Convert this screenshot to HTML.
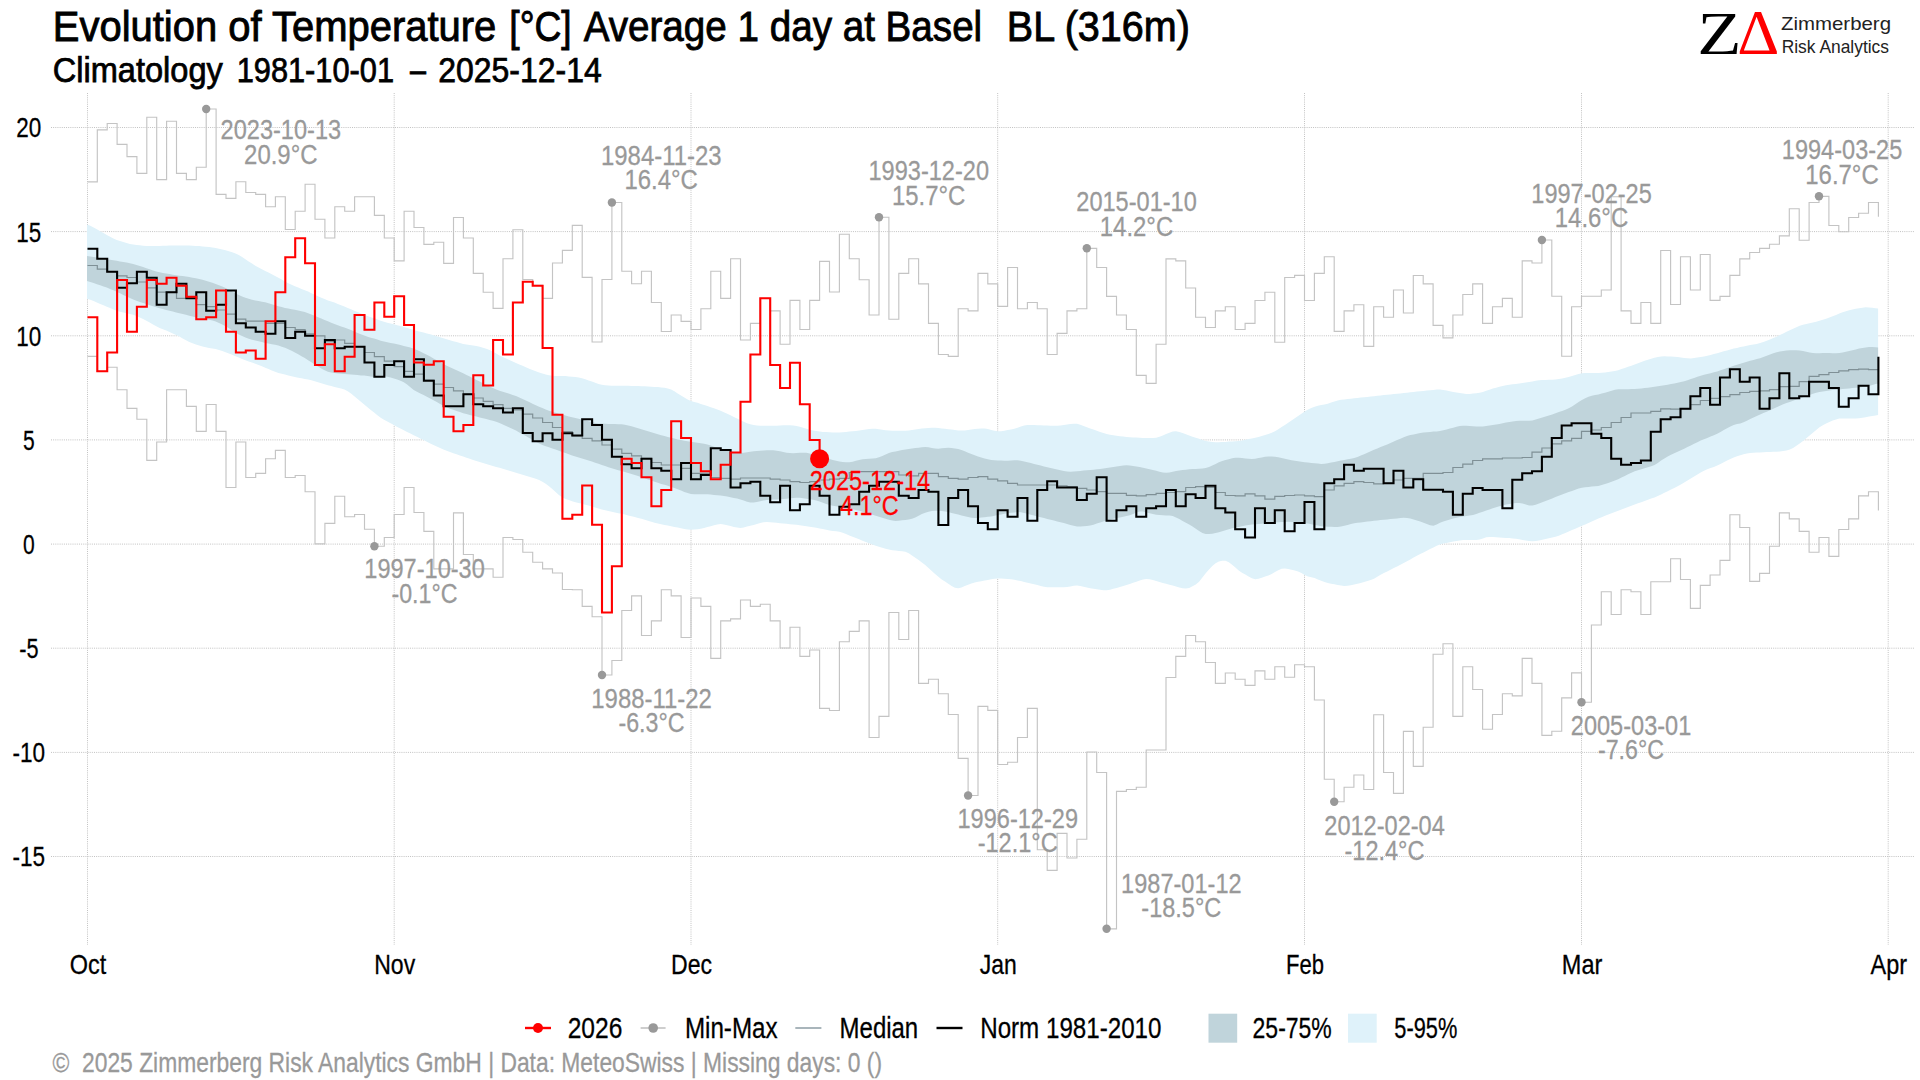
<!DOCTYPE html>
<html lang="en"><head><meta charset="utf-8"><title>Evolution of Temperature – Basel BL</title>
<style>html,body{margin:0;padding:0;background:#fff}body{width:1920px;height:1080px;overflow:hidden}svg{display:block}text{font-family:"Liberation Sans",sans-serif;white-space:pre}</style></head><body>
<svg width="1920" height="1080" viewBox="0 0 1920 1080">
<rect width="1920" height="1080" fill="#fff"/>
<path d="M51,127.5H1914M51,231.6H1914M51,335.8H1914M51,439.9H1914M51,544.1H1914M51,648.2H1914M51,752.4H1914M51,856.5H1914M87.5,93V945M394.2,93V945M691,93V945M997.7,93V945M1304.5,93V945M1581.5,93V945M1888.2,93V945" stroke="#c2c2c2" stroke-width="1" stroke-dasharray="1,1.15" fill="none"/>
<path d="M87,224.5 L90.3,225.8 L93.6,227.5 L96.9,229.3 L100.2,231.2 L103.5,233.1 L106.8,235 L110.1,236.7 L113.4,238.4 L116.7,239.9 L120,241 L123.3,242.1 L126.6,243.1 L129.9,244 L133.2,244.5 L136.5,244.9 L139.8,245.3 L143.1,245.7 L146.4,246 L149.7,246.1 L153,246 L156.3,246 L159.6,245.9 L162.9,245.8 L166.2,245.7 L169.5,245.6 L172.8,245.5 L176.1,245.5 L179.4,245.4 L182.7,245.4 L186,245.5 L189.3,245.6 L192.6,245.7 L195.9,245.9 L199.2,246.1 L202.5,246.4 L205.8,246.7 L209.1,247.1 L212.4,247.5 L215.7,248 L219,248.7 L222.3,249.4 L225.6,250.3 L228.9,251.2 L232.2,252.3 L235.5,253.5 L238.8,255.1 L242.1,257.1 L245.4,259.2 L248.7,261.4 L252,263.6 L255.3,265.7 L258.6,267.6 L261.9,269.3 L265.2,270.9 L268.5,272.6 L271.8,274.2 L275.1,275.9 L278.4,277.7 L281.7,279.6 L285,281.5 L288.3,283.2 L291.6,284.7 L294.9,286.2 L298.2,287.6 L301.5,288.9 L304.8,290.2 L308.1,291.6 L311.4,293.2 L314.7,294.8 L318,296.3 L321.3,297.8 L324.6,299.1 L327.9,300.4 L331.2,301.5 L334.5,302.6 L337.8,303.9 L341.1,305.2 L344.4,306.6 L347.7,307.9 L351,309.3 L354.3,310.7 L357.6,312.1 L360.9,313.4 L364.2,314.8 L367.5,316.1 L370.8,317.2 L374.1,318.3 L377.4,319.6 L380.7,320.8 L384,321.8 L387.3,322.7 L390.6,323.5 L393.9,324.3 L397.2,325.2 L400.5,326.1 L403.8,327.1 L407.1,328.1 L410.4,329.1 L413.7,330.1 L417,330.9 L420.3,331.7 L423.6,332.6 L426.9,333.4 L430.2,334.3 L433.5,335.2 L436.8,336.2 L440.1,337.2 L443.4,338.2 L446.7,339.2 L450,340.2 L453.3,341.2 L456.6,342.1 L459.9,343.1 L463.2,344 L466.5,344.6 L469.8,345.1 L473.1,345.6 L476.4,346.1 L479.7,346.8 L483,347.7 L486.3,348.8 L489.6,350 L492.9,351.7 L496.2,353.6 L499.5,355.4 L502.8,357 L506.1,358.5 L509.4,359.9 L512.7,361.4 L516,362.9 L519.3,364.4 L522.6,365.8 L525.9,367.3 L529.2,368.7 L532.5,370 L535.8,371.2 L539.1,372.4 L542.4,373.5 L545.7,374.5 L549,375.3 L552.3,375.8 L555.6,376.1 L558.9,376.1 L562.2,376 L565.5,376.1 L568.8,376.4 L572.1,376.7 L575.4,377 L578.7,377.5 L582,378.2 L585.3,379.3 L588.6,380.4 L591.9,381.5 L595.2,382.7 L598.5,383.9 L601.8,384.8 L605.1,385.2 L608.4,385.5 L611.7,385.7 L615,385.8 L618.3,385.8 L621.6,385.8 L624.9,385.8 L628.2,385.8 L631.5,385.9 L634.8,386 L638.1,386.1 L641.4,386.2 L644.7,386.3 L648,386.4 L651.3,386.7 L654.6,386.9 L657.9,387.1 L661.2,387.4 L664.5,387.8 L667.8,388.4 L671.1,389.4 L674.4,391.2 L677.7,393.4 L681,395.5 L684.3,397.5 L687.6,399.4 L690.9,400.9 L694.2,401.9 L697.5,402.8 L700.8,403.9 L704.1,405 L707.4,406.1 L710.7,407.2 L714,408.3 L717.3,409.5 L720.6,410.8 L723.9,412.2 L727.2,413.7 L730.5,415.2 L733.8,416.9 L737.1,418.5 L740.4,420.2 L743.7,421.8 L747,423.2 L750.3,424.2 L753.6,425.1 L756.9,425.6 L760.2,425.8 L763.5,425.8 L766.8,425.8 L770.1,425.8 L773.4,425.8 L776.7,425.7 L780,425.5 L783.3,425.3 L786.6,425.2 L789.9,425.2 L793.2,425.5 L796.5,426.1 L799.8,426.8 L803.1,427.7 L806.4,428.8 L809.7,429.8 L813,430.4 L816.3,430.9 L819.6,431.4 L822.9,431.9 L826.2,432.1 L829.5,432.2 L832.8,432.4 L836.1,432.5 L839.4,432.5 L842.7,432.3 L846,432 L849.3,431.6 L852.6,431.3 L855.9,430.9 L859.2,430.4 L862.5,430 L865.8,429.5 L869.1,429 L872.4,428.7 L875.7,428.8 L879,429.2 L882.3,429.7 L885.6,430.2 L888.9,430.6 L892.2,430.8 L895.5,430.8 L898.8,430.8 L902.1,430.8 L905.4,430.8 L908.7,430.5 L912,430 L915.3,429.5 L918.6,429 L921.9,428.6 L925.2,428.2 L928.5,427.9 L931.8,427.7 L935.1,427.8 L938.4,428.1 L941.7,428.4 L945,428.8 L948.3,429.2 L951.6,429.6 L954.9,430 L958.2,430.4 L961.5,430.6 L964.8,430.4 L968.1,429.9 L971.4,429.5 L974.7,429.1 L978,428.8 L981.3,428.6 L984.6,428.6 L987.9,429.1 L991.2,429.9 L994.5,430.7 L997.8,431.2 L1001.1,431.2 L1004.4,430.7 L1007.7,430.1 L1011,429.5 L1014.3,428.7 L1017.6,427.7 L1020.9,426.6 L1024.2,425.6 L1027.5,424.9 L1030.8,424.9 L1034.1,425 L1037.4,425.2 L1040.7,425.3 L1044,425.5 L1047.3,425.6 L1050.6,425.7 L1053.9,425.7 L1057.2,425.7 L1060.5,425.4 L1063.8,424.9 L1067.1,424.5 L1070.4,424.1 L1073.7,423.7 L1077,423.8 L1080.3,424.7 L1083.6,425.9 L1086.9,427.2 L1090.2,428.4 L1093.5,429.6 L1096.8,430.7 L1100.1,431.9 L1103.4,433 L1106.7,434 L1110,434.7 L1113.3,435.2 L1116.6,435.7 L1119.9,436.2 L1123.2,436.6 L1126.5,436.9 L1129.8,437.2 L1133.1,437.4 L1136.4,437.6 L1139.7,437.8 L1143,437.9 L1146.3,437.9 L1149.6,438 L1152.9,438 L1156.2,437.7 L1159.5,436.8 L1162.8,435.4 L1166.1,434.1 L1169.4,432.7 L1172.7,431.5 L1176,431.2 L1179.3,431.9 L1182.6,433.1 L1185.9,434.3 L1189.2,435.5 L1192.5,436.7 L1195.8,437.7 L1199.1,438.8 L1202.4,439.9 L1205.7,440.9 L1209,441.6 L1212.3,442 L1215.6,442.3 L1218.9,442.3 L1222.2,442.1 L1225.5,441.9 L1228.8,441.6 L1232.1,441.4 L1235.4,441.2 L1238.7,440.9 L1242,440.4 L1245.3,439.8 L1248.6,439.1 L1251.9,438.5 L1255.2,437.7 L1258.5,436.9 L1261.8,436 L1265.1,435 L1268.4,434 L1271.7,432.8 L1275,431.3 L1278.3,429.3 L1281.6,427.1 L1284.9,425 L1288.2,422.8 L1291.5,420.6 L1294.8,418.3 L1298.1,416 L1301.4,413.7 L1304.7,411.5 L1308,409.6 L1311.3,408.1 L1314.6,406.8 L1317.9,405.8 L1321.2,405.1 L1324.5,404.5 L1327.8,403.7 L1331.1,402.6 L1334.4,401.4 L1337.7,400.4 L1341,399.8 L1344.3,399.4 L1347.6,399 L1350.9,398.7 L1354.2,398.3 L1357.5,398 L1360.8,397.6 L1364.1,397.3 L1367.4,396.9 L1370.7,396.6 L1374,396.2 L1377.3,395.8 L1380.6,395.5 L1383.9,395.1 L1387.2,394.8 L1390.5,394.4 L1393.8,394.1 L1397.1,393.7 L1400.4,393.4 L1403.7,393 L1407,392.7 L1410.3,392.3 L1413.6,392 L1416.9,391.6 L1420.2,391.3 L1423.5,390.9 L1426.8,390.6 L1430.1,390.2 L1433.4,389.9 L1436.7,389.5 L1440,389.4 L1443.3,389.9 L1446.6,390.6 L1449.9,391.3 L1453.2,391.9 L1456.5,392.5 L1459.8,393.1 L1463.1,393.6 L1466.4,393.9 L1469.7,393.9 L1473,393.6 L1476.3,393.3 L1479.6,392.8 L1482.9,392 L1486.2,390.8 L1489.5,389.7 L1492.8,388.6 L1496.1,387.7 L1499.4,386.8 L1502.7,386 L1506,385.3 L1509.3,384.7 L1512.6,384.3 L1515.9,383.9 L1519.2,383.5 L1522.5,383.1 L1525.8,382.5 L1529.1,382 L1532.4,381.4 L1535.7,380.8 L1539,380.3 L1542.3,380 L1545.6,379.9 L1548.9,379.8 L1552.2,379.8 L1555.5,379.6 L1558.8,379.1 L1562.1,378.4 L1565.4,377.7 L1568.7,376.9 L1572,376 L1575.3,375 L1578.6,374 L1581.9,373.3 L1585.2,373 L1588.5,373.1 L1591.8,373.1 L1595.1,373.1 L1598.4,373.1 L1601.7,372.8 L1605,372.4 L1608.3,371.9 L1611.6,371.5 L1614.9,371 L1618.2,370.2 L1621.5,369.1 L1624.8,368 L1628.1,366.8 L1631.4,365.7 L1634.7,364.5 L1638,363.3 L1641.3,362 L1644.6,360.8 L1647.9,359.7 L1651.2,358.7 L1654.5,357.7 L1657.8,356.9 L1661.1,356.4 L1664.4,356.3 L1667.7,356.4 L1671,356.5 L1674.3,356.7 L1677.6,357 L1680.9,357.5 L1684.2,357.9 L1687.5,358.3 L1690.8,358.4 L1694.1,358.1 L1697.4,357.6 L1700.7,357 L1704,356.4 L1707.3,355.7 L1710.6,354.9 L1713.9,354 L1717.2,353.2 L1720.5,352.3 L1723.8,351.3 L1727.1,350.4 L1730.4,349.5 L1733.7,348.6 L1737,347.9 L1740.3,347.1 L1743.6,346.4 L1746.9,345.7 L1750.2,345 L1753.5,344.4 L1756.8,343.9 L1760.1,343.1 L1763.4,342 L1766.7,340.7 L1770,339.4 L1773.3,338.1 L1776.6,336.7 L1779.9,335.1 L1783.2,333.4 L1786.5,331.8 L1789.8,330.2 L1793.1,328.7 L1796.4,327.2 L1799.7,325.8 L1803,324.8 L1806.3,324.1 L1809.6,323.3 L1812.9,322.5 L1816.2,321.7 L1819.5,320.8 L1822.8,319.8 L1826.1,318.7 L1829.4,317.6 L1832.7,316.3 L1836,314.9 L1839.3,313.5 L1842.6,312.3 L1845.9,311.3 L1849.2,310.3 L1852.5,309.5 L1855.8,308.8 L1859.1,308.2 L1862.4,307.7 L1865.7,307.3 L1869,307.4 L1872.3,307.8 L1875.6,308.3 L1878.1,308.6 L1878.1,415.1 L1875.6,415.4 L1872.3,416 L1869,416.6 L1865.7,417.2 L1862.4,417.8 L1859.1,418.3 L1855.8,418.5 L1852.5,418.6 L1849.2,418.6 L1845.9,418.5 L1842.6,418.5 L1839.3,418.6 L1836,419.4 L1832.7,420.6 L1829.4,422 L1826.1,423.6 L1822.8,425.3 L1819.5,427.3 L1816.2,429.9 L1812.9,432.8 L1809.6,435.6 L1806.3,438.3 L1803,440.9 L1799.7,443.4 L1796.4,445.7 L1793.1,447.9 L1789.8,449.6 L1786.5,450.6 L1783.2,451.1 L1779.9,451.6 L1776.6,451.8 L1773.3,451.8 L1770,451.9 L1766.7,452 L1763.4,452.2 L1760.1,452.4 L1756.8,452.6 L1753.5,452.8 L1750.2,453.1 L1746.9,453.6 L1743.6,454.3 L1740.3,455.2 L1737,456.3 L1733.7,457.5 L1730.4,459 L1727.1,460.6 L1723.8,462.3 L1720.5,463.9 L1717.2,465.5 L1713.9,466.9 L1710.6,468.1 L1707.3,469.3 L1704,470.7 L1700.7,472.5 L1697.4,474.4 L1694.1,476.4 L1690.8,478.4 L1687.5,480.4 L1684.2,482.5 L1680.9,484.4 L1677.6,486.2 L1674.3,487.9 L1671,489.5 L1667.7,491.2 L1664.4,492.8 L1661.1,494.5 L1657.8,496 L1654.5,497.4 L1651.2,498.6 L1647.9,499.8 L1644.6,501 L1641.3,502.2 L1638,503.3 L1634.7,504.5 L1631.4,505.7 L1628.1,507 L1624.8,508.2 L1621.5,509.4 L1618.2,510.7 L1614.9,511.9 L1611.6,513.2 L1608.3,514.4 L1605,515.8 L1601.7,517.2 L1598.4,518.6 L1595.1,520.1 L1591.8,521.5 L1588.5,522.9 L1585.2,524.4 L1581.9,525.8 L1578.6,527.3 L1575.3,528.7 L1572,530.1 L1568.7,531.5 L1565.4,532.9 L1562.1,534.3 L1558.8,535.7 L1555.5,536.8 L1552.2,537.6 L1548.9,538.3 L1545.6,539 L1542.3,539.7 L1539,540.5 L1535.7,541.1 L1532.4,541.3 L1529.1,541 L1525.8,540.4 L1522.5,539.9 L1519.2,539.3 L1515.9,538.8 L1512.6,538.4 L1509.3,538.1 L1506,537.9 L1502.7,537.7 L1499.4,537.5 L1496.1,537.3 L1492.8,537 L1489.5,536.9 L1486.2,537.3 L1482.9,538.5 L1479.6,539.6 L1476.3,540 L1473,540 L1469.7,540 L1466.4,540 L1463.1,540.1 L1459.8,540.4 L1456.5,541 L1453.2,541.6 L1449.9,542.3 L1446.6,542.9 L1443.3,543.5 L1440,544.4 L1436.7,545.8 L1433.4,547.5 L1430.1,549.1 L1426.8,550.8 L1423.5,552.4 L1420.2,554.1 L1416.9,555.8 L1413.6,557.6 L1410.3,559.4 L1407,561.2 L1403.7,562.9 L1400.4,564.7 L1397.1,566.4 L1393.8,568.1 L1390.5,569.8 L1387.2,571.4 L1383.9,573.1 L1380.6,574.8 L1377.3,576.8 L1374,578.7 L1370.7,580.1 L1367.4,581.1 L1364.1,582.1 L1360.8,583 L1357.5,583.8 L1354.2,584.5 L1350.9,585.2 L1347.6,585.7 L1344.3,585.9 L1341,585.6 L1337.7,584.9 L1334.4,584.3 L1331.1,583.7 L1327.8,583 L1324.5,582.1 L1321.2,580.8 L1317.9,579.4 L1314.6,578.1 L1311.3,577.2 L1308,576.5 L1304.7,575 L1301.4,573 L1298.1,571.4 L1294.8,570.5 L1291.5,569.8 L1288.2,569.1 L1284.9,568.5 L1281.6,568.8 L1278.3,570.2 L1275,572.1 L1271.7,573.9 L1268.4,575.4 L1265.1,576.6 L1261.8,577.7 L1258.5,578.8 L1255.2,579.2 L1251.9,578.2 L1248.6,576.4 L1245.3,574.6 L1242,572.7 L1238.7,570.4 L1235.4,567.6 L1232.1,564.8 L1228.8,562.2 L1225.5,560.7 L1222.2,560.7 L1218.9,561.5 L1215.6,563.2 L1212.3,566 L1209,569.4 L1205.7,573.3 L1202.4,577.6 L1199.1,581.7 L1195.8,584.5 L1192.5,586.3 L1189.2,587.9 L1185.9,588.6 L1182.6,588.2 L1179.3,587.4 L1176,586.5 L1172.7,585.6 L1169.4,584.7 L1166.1,583.8 L1162.8,582.9 L1159.5,582 L1156.2,581 L1152.9,580.1 L1149.6,579.2 L1146.3,578.9 L1143,579.5 L1139.7,580.6 L1136.4,581.7 L1133.1,582.8 L1129.8,583.9 L1126.5,585 L1123.2,586 L1119.9,587 L1116.6,587.9 L1113.3,588.8 L1110,589.7 L1106.7,590.3 L1103.4,590.2 L1100.1,589.7 L1096.8,589.3 L1093.5,588.8 L1090.2,588.3 L1086.9,587.6 L1083.6,586.7 L1080.3,585.9 L1077,585.4 L1073.7,585.7 L1070.4,586.5 L1067.1,587.1 L1063.8,587.3 L1060.5,587.3 L1057.2,587.3 L1053.9,587.3 L1050.6,587.3 L1047.3,587.2 L1044,586.7 L1040.7,585.9 L1037.4,585.1 L1034.1,584.3 L1030.8,583.5 L1027.5,582.7 L1024.2,581.9 L1020.9,581.1 L1017.6,580.4 L1014.3,579.7 L1011,579.2 L1007.7,579 L1004.4,578.8 L1001.1,578.6 L997.8,578.5 L994.5,578.8 L991.2,579.3 L987.9,580 L984.6,580.6 L981.3,581.2 L978,581.8 L974.7,582.5 L971.4,583.5 L968.1,584.8 L964.8,586.1 L961.5,587.4 L958.2,588.3 L954.9,587.8 L951.6,586 L948.3,583.8 L945,581.6 L941.7,579.4 L938.4,576.8 L935.1,573.9 L931.8,571 L928.5,568 L925.2,565.1 L921.9,562.4 L918.6,560 L915.3,557.7 L912,555.4 L908.7,553.3 L905.4,551.8 L902.1,551.2 L898.8,550.9 L895.5,550.5 L892.2,550.2 L888.9,549.6 L885.6,548.7 L882.3,547.7 L879,546.7 L875.7,545.7 L872.4,544.6 L869.1,543.3 L865.8,542 L862.5,540.7 L859.2,539.3 L855.9,538 L852.6,536.7 L849.3,535.4 L846,534.1 L842.7,532.8 L839.4,531.8 L836.1,531.3 L832.8,530.9 L829.5,530.4 L826.2,529.7 L822.9,529.1 L819.6,528.4 L816.3,527.8 L813,527.2 L809.7,526.7 L806.4,526.2 L803.1,525.7 L799.8,525.2 L796.5,524.8 L793.2,524.5 L789.9,524.2 L786.6,523.8 L783.3,523.5 L780,523.2 L776.7,522.8 L773.4,522.5 L770.1,522.2 L766.8,522 L763.5,522.3 L760.2,523.1 L756.9,524.1 L753.6,524.9 L750.3,525.8 L747,526.6 L743.7,527.4 L740.4,527.9 L737.1,527.6 L733.8,526.9 L730.5,526.1 L727.2,525.3 L723.9,524.6 L720.6,524.1 L717.3,524.5 L714,525.3 L710.7,526.2 L707.4,527.1 L704.1,528 L700.8,528.8 L697.5,529.3 L694.2,529.6 L690.9,529.8 L687.6,529.5 L684.3,528.9 L681,528.2 L677.7,527.5 L674.4,526.9 L671.1,526.2 L667.8,525.6 L664.5,524.9 L661.2,524.2 L657.9,523.5 L654.6,522.7 L651.3,521.7 L648,520.7 L644.7,519.7 L641.4,518.8 L638.1,517.9 L634.8,517 L631.5,516.2 L628.2,515.4 L624.9,514.6 L621.6,513.8 L618.3,513.2 L615,512.5 L611.7,511.8 L608.4,511.1 L605.1,510.3 L601.8,509.4 L598.5,508.4 L595.2,507.4 L591.9,506.4 L588.6,505.5 L585.3,504.7 L582,503.8 L578.7,503 L575.4,502.2 L572.1,501.2 L568.8,500 L565.5,498.9 L562.2,497.3 L558.9,494.9 L555.6,491.9 L552.3,488.9 L549,486.2 L545.7,483.8 L542.4,481.7 L539.1,479.9 L535.8,478.7 L532.5,477.7 L529.2,476.8 L525.9,475.8 L522.6,474.8 L519.3,473.8 L516,472.8 L512.7,471.8 L509.4,470.8 L506.1,469.8 L502.8,468.8 L499.5,467.8 L496.2,466.9 L492.9,465.9 L489.6,464.9 L486.3,463.9 L483,462.9 L479.7,461.9 L476.4,460.9 L473.1,459.9 L469.8,458.8 L466.5,457.7 L463.2,456.6 L459.9,455.5 L456.6,454.3 L453.3,453.2 L450,452 L446.7,450.8 L443.4,449.4 L440.1,447.9 L436.8,446.4 L433.5,444.9 L430.2,443.4 L426.9,441.8 L423.6,440.1 L420.3,438.5 L417,436.8 L413.7,435.2 L410.4,433.5 L407.1,431.9 L403.8,430.2 L400.5,428.6 L397.2,426.9 L393.9,425.1 L390.6,423.3 L387.3,421.5 L384,419.7 L380.7,417.7 L377.4,415.3 L374.1,412.6 L370.8,409.9 L367.5,407.2 L364.2,404.5 L360.9,401.7 L357.6,399 L354.3,396.3 L351,393.6 L347.7,391.2 L344.4,389.6 L341.1,388.6 L337.8,387.8 L334.5,387 L331.2,386.1 L327.9,385.3 L324.6,384.3 L321.3,383.2 L318,382.2 L314.7,381.2 L311.4,380.3 L308.1,379.6 L304.8,378.9 L301.5,378.3 L298.2,377.7 L294.9,377 L291.6,376.2 L288.3,375.4 L285,374.6 L281.7,373.8 L278.4,372.9 L275.1,371.8 L271.8,370.5 L268.5,369.1 L265.2,367.7 L261.9,366.3 L258.6,365 L255.3,363.8 L252,362.6 L248.7,361.5 L245.4,360.3 L242.1,358.9 L238.8,357.6 L235.5,356.2 L232.2,354.8 L228.9,353.5 L225.6,352.2 L222.3,351 L219,350 L215.7,349.1 L212.4,348.5 L209.1,347.9 L205.8,347.2 L202.5,346.5 L199.2,345.6 L195.9,344.6 L192.6,343.3 L189.3,341.9 L186,340.3 L182.7,338.5 L179.4,336.6 L176.1,334.9 L172.8,333.4 L169.5,332 L166.2,330.6 L162.9,329.3 L159.6,327.9 L156.3,326.3 L153,324.5 L149.7,322.6 L146.4,320.8 L143.1,319 L139.8,317.4 L136.5,315.9 L133.2,314.8 L129.9,314 L126.6,313.3 L123.3,312.5 L120,311.7 L116.7,310.7 L113.4,309.5 L110.1,308.1 L106.8,306.7 L103.5,305.3 L100.2,304 L96.9,302.6 L93.6,301.1 L90.3,299.7 L87,298.7Z" fill="#dff2fa"/>
<path d="M87,256 L90.3,256.4 L93.6,256.9 L96.9,257.5 L100.2,258.1 L103.5,258.6 L106.8,259.2 L110.1,259.7 L113.4,260.3 L116.7,260.8 L120,261.4 L123.3,261.9 L126.6,262.6 L129.9,263.3 L133.2,264.1 L136.5,265 L139.8,266 L143.1,267.1 L146.4,268.2 L149.7,269.3 L153,270.4 L156.3,271.4 L159.6,272.2 L162.9,272.9 L166.2,273.5 L169.5,274.1 L172.8,274.7 L176.1,275.2 L179.4,275.7 L182.7,276.1 L186,276.6 L189.3,277.1 L192.6,277.7 L195.9,278.3 L199.2,279 L202.5,279.8 L205.8,280.7 L209.1,281.7 L212.4,282.7 L215.7,283.9 L219,285.2 L222.3,286.5 L225.6,288 L228.9,289.7 L232.2,291.6 L235.5,293.4 L238.8,295 L242.1,296.4 L245.4,297.7 L248.7,298.8 L252,299.7 L255.3,300.5 L258.6,301.1 L261.9,301.7 L265.2,302.3 L268.5,303.2 L271.8,304.2 L275.1,305.3 L278.4,306.2 L281.7,307.1 L285,307.9 L288.3,308.6 L291.6,309.2 L294.9,309.7 L298.2,310.4 L301.5,311.2 L304.8,312.1 L308.1,313.2 L311.4,314.5 L314.7,315.8 L318,317.2 L321.3,318.6 L324.6,320 L327.9,321.3 L331.2,322.7 L334.5,324.1 L337.8,325.3 L341.1,326.5 L344.4,327.6 L347.7,328.8 L351,330.1 L354.3,331.5 L357.6,332.9 L360.9,334.3 L364.2,335.6 L367.5,336.8 L370.8,337.7 L374.1,338.6 L377.4,339.6 L380.7,340.8 L384,341.6 L387.3,342.3 L390.6,343 L393.9,343.6 L397.2,344.3 L400.5,345.1 L403.8,345.9 L407.1,346.8 L410.4,347.6 L413.7,348.7 L417,350.1 L420.3,351.6 L423.6,353.2 L426.9,354.8 L430.2,356.6 L433.5,358.4 L436.8,360.3 L440.1,362.1 L443.4,364 L446.7,365.8 L450,367.3 L453.3,368.8 L456.6,370.3 L459.9,371.8 L463.2,373.3 L466.5,374.9 L469.8,376.6 L473.1,378.2 L476.4,379.9 L479.7,381.5 L483,383.2 L486.3,384.8 L489.6,386.5 L492.9,388.1 L496.2,389.6 L499.5,390.8 L502.8,391.8 L506.1,392.8 L509.4,393.8 L512.7,394.9 L516,396.1 L519.3,397.5 L522.6,398.9 L525.9,400.5 L529.2,402.1 L532.5,403.7 L535.8,405.2 L539.1,406.7 L542.4,408.1 L545.7,409.5 L549,410.7 L552.3,411.7 L555.6,412.7 L558.9,413.7 L562.2,414.6 L565.5,415.5 L568.8,416.4 L572.1,417.2 L575.4,418 L578.7,418.8 L582,419.7 L585.3,420.5 L588.6,421.3 L591.9,422.1 L595.2,422.9 L598.5,423.4 L601.8,423.6 L605.1,423.8 L608.4,423.9 L611.7,424.1 L615,424.1 L618.3,424.2 L621.6,424.3 L624.9,424.8 L628.2,425.5 L631.5,426.3 L634.8,427.3 L638.1,428.3 L641.4,429.3 L644.7,430.2 L648,431.2 L651.3,432.2 L654.6,433.2 L657.9,434.2 L661.2,435.2 L664.5,436.1 L667.8,436.9 L671.1,437.8 L674.4,438.6 L677.7,439.4 L681,440.1 L684.3,440.7 L687.6,441.3 L690.9,441.8 L694.2,442.3 L697.5,442.8 L700.8,443.3 L704.1,443.8 L707.4,444.6 L710.7,445.6 L714,446.7 L717.3,447.9 L720.6,449 L723.9,450 L727.2,450.8 L730.5,451.4 L733.8,452.1 L737.1,452.7 L740.4,453 L743.7,452.8 L747,452.3 L750.3,451.8 L753.6,451.3 L756.9,450.9 L760.2,450.7 L763.5,450.5 L766.8,450.3 L770.1,450.2 L773.4,450.2 L776.7,450.7 L780,451.3 L783.3,452 L786.6,452.7 L789.9,453.1 L793.2,453.2 L796.5,453 L799.8,452.8 L803.1,452.7 L806.4,452.8 L809.7,453.4 L813,454.4 L816.3,455.4 L819.6,456.4 L822.9,457.3 L826.2,458.2 L829.5,459 L832.8,459.9 L836.1,460.7 L839.4,461.4 L842.7,461.9 L846,462.2 L849.3,462.2 L852.6,461.7 L855.9,460.8 L859.2,459.9 L862.5,459.3 L865.8,458.9 L869.1,458.8 L872.4,458.6 L875.7,458.2 L879,457.2 L882.3,455.9 L885.6,454.4 L888.9,453.1 L892.2,452.1 L895.5,451.4 L898.8,450.7 L902.1,450.1 L905.4,449.5 L908.7,448.9 L912,448.5 L915.3,448.1 L918.6,447.7 L921.9,447.3 L925.2,447 L928.5,447.3 L931.8,447.9 L935.1,448.6 L938.4,448.7 L941.7,448.3 L945,447.9 L948.3,447.8 L951.6,448.1 L954.9,448.5 L958.2,449.1 L961.5,450 L964.8,451.3 L968.1,452.7 L971.4,454.1 L974.7,455.3 L978,456.4 L981.3,457.4 L984.6,458.4 L987.9,459.3 L991.2,459.9 L994.5,460.2 L997.8,460.4 L1001.1,460.6 L1004.4,460.7 L1007.7,460.7 L1011,460.5 L1014.3,460.3 L1017.6,460.3 L1020.9,460.7 L1024.2,461.5 L1027.5,462.3 L1030.8,463.1 L1034.1,463.9 L1037.4,464.8 L1040.7,465.6 L1044,466.4 L1047.3,467.2 L1050.6,468 L1053.9,468.8 L1057.2,469.5 L1060.5,470.2 L1063.8,471 L1067.1,471.6 L1070.4,471.7 L1073.7,471.5 L1077,471.2 L1080.3,470.9 L1083.6,470.6 L1086.9,470.3 L1090.2,470 L1093.5,469.7 L1096.8,469.3 L1100.1,468.9 L1103.4,468.4 L1106.7,467.9 L1110,467.4 L1113.3,466.9 L1116.6,466.4 L1119.9,466 L1123.2,465.5 L1126.5,465.3 L1129.8,465.5 L1133.1,466 L1136.4,466.5 L1139.7,467.1 L1143,467.7 L1146.3,468.5 L1149.6,469.2 L1152.9,470 L1156.2,470.8 L1159.5,471.8 L1162.8,472.6 L1166.1,472.8 L1169.4,472.4 L1172.7,471.7 L1176,471 L1179.3,470.5 L1182.6,470.1 L1185.9,469.7 L1189.2,469.3 L1192.5,469.1 L1195.8,468.9 L1199.1,468.7 L1202.4,468.5 L1205.7,468.1 L1209,467.1 L1212.3,465.5 L1215.6,463.9 L1218.9,462.3 L1222.2,461.1 L1225.5,460.1 L1228.8,459.2 L1232.1,458.3 L1235.4,457.8 L1238.7,457.8 L1242,458.1 L1245.3,458.4 L1248.6,458.7 L1251.9,458.9 L1255.2,458.7 L1258.5,458.1 L1261.8,457.4 L1265.1,456.8 L1268.4,456.5 L1271.7,456.5 L1275,456.7 L1278.3,457.2 L1281.6,457.9 L1284.9,458.7 L1288.2,459.5 L1291.5,460.2 L1294.8,460.7 L1298.1,461.2 L1301.4,461.7 L1304.7,462.2 L1308,462.6 L1311.3,463 L1314.6,463.3 L1317.9,463.6 L1321.2,463.9 L1324.5,463.8 L1327.8,463.3 L1331.1,462.6 L1334.4,462 L1337.7,461.3 L1341,460.6 L1344.3,460 L1347.6,459.3 L1350.9,458.7 L1354.2,457.9 L1357.5,457 L1360.8,455.6 L1364.1,454.2 L1367.4,452.7 L1370.7,451.2 L1374,449.8 L1377.3,448.4 L1380.6,447.1 L1383.9,445.8 L1387.2,444.4 L1390.5,443.1 L1393.8,441.6 L1397.1,440.1 L1400.4,438.7 L1403.7,437.2 L1407,436 L1410.3,435.1 L1413.6,434.4 L1416.9,433.8 L1420.2,433.1 L1423.5,432.6 L1426.8,432.2 L1430.1,431.9 L1433.4,431.6 L1436.7,431.4 L1440,430.9 L1443.3,430.2 L1446.6,429.4 L1449.9,428.5 L1453.2,427.7 L1456.5,426.8 L1459.8,426.1 L1463.1,425.7 L1466.4,425.8 L1469.7,426 L1473,426.2 L1476.3,426.4 L1479.6,426.5 L1482.9,426.4 L1486.2,426 L1489.5,425.5 L1492.8,425 L1496.1,424.5 L1499.4,423.9 L1502.7,423.3 L1506,422.6 L1509.3,422 L1512.6,421.4 L1515.9,421 L1519.2,420.8 L1522.5,420.8 L1525.8,420.8 L1529.1,420.8 L1532.4,420.4 L1535.7,419.6 L1539,418.6 L1542.3,417.6 L1545.6,416.6 L1548.9,415.6 L1552.2,414.4 L1555.5,413.3 L1558.8,412.1 L1562.1,410.9 L1565.4,409.7 L1568.7,408.3 L1572,406.4 L1575.3,404.2 L1578.6,402.1 L1581.9,400 L1585.2,398.2 L1588.5,396.7 L1591.8,395.7 L1595.1,395 L1598.4,394.4 L1601.7,393.6 L1605,392.7 L1608.3,391.7 L1611.6,390.7 L1614.9,389.8 L1618.2,389.3 L1621.5,389.2 L1624.8,389.2 L1628.1,389.2 L1631.4,389.1 L1634.7,389 L1638,388.7 L1641.3,388.4 L1644.6,388 L1647.9,387.7 L1651.2,387.3 L1654.5,386.8 L1657.8,386.3 L1661.1,385.8 L1664.4,385.3 L1667.7,384.8 L1671,384.1 L1674.3,383.5 L1677.6,382.8 L1680.9,382.1 L1684.2,381.3 L1687.5,380.2 L1690.8,379.1 L1694.1,377.9 L1697.4,376.8 L1700.7,375.7 L1704,374.8 L1707.3,374 L1710.6,373.2 L1713.9,372.3 L1717.2,371.4 L1720.5,370.3 L1723.8,369.2 L1727.1,368 L1730.4,366.9 L1733.7,365.8 L1737,364.7 L1740.3,363.7 L1743.6,362.8 L1746.9,361.8 L1750.2,360.8 L1753.5,360 L1756.8,359.1 L1760.1,358.2 L1763.4,357 L1766.7,355.7 L1770,354.4 L1773.3,353.2 L1776.6,352.3 L1779.9,351.6 L1783.2,351 L1786.5,350.5 L1789.8,350.3 L1793.1,350.3 L1796.4,350.3 L1799.7,350.5 L1803,351 L1806.3,351.8 L1809.6,352.5 L1812.9,353.1 L1816.2,353.2 L1819.5,353.2 L1822.8,353.1 L1826.1,353.1 L1829.4,353.1 L1832.7,353.2 L1836,353.2 L1839.3,353 L1842.6,352.4 L1845.9,351.7 L1849.2,351 L1852.5,350.2 L1855.8,349.4 L1859.1,348.6 L1862.4,347.9 L1865.7,347.4 L1869,347 L1872.3,347 L1875.6,347.2 L1878.1,347.4 L1878.1,383.5 L1875.6,384.1 L1872.3,385 L1869,385.9 L1865.7,386.7 L1862.4,387.1 L1859.1,387.4 L1855.8,387.8 L1852.5,388.1 L1849.2,388.4 L1845.9,388.7 L1842.6,389.1 L1839.3,389.4 L1836,389.7 L1832.7,390.1 L1829.4,390.6 L1826.1,391.1 L1822.8,391.6 L1819.5,392.1 L1816.2,392.8 L1812.9,393.8 L1809.6,395 L1806.3,396.1 L1803,397.3 L1799.7,398.4 L1796.4,399.6 L1793.1,400.7 L1789.8,401.9 L1786.5,403.1 L1783.2,404.3 L1779.9,405.7 L1776.6,407.2 L1773.3,408.7 L1770,410.2 L1766.7,411.7 L1763.4,413.1 L1760.1,414.6 L1756.8,416.1 L1753.5,417.6 L1750.2,419.1 L1746.9,420.7 L1743.6,422.3 L1740.3,423.4 L1737,424.1 L1733.7,424.9 L1730.4,426.4 L1727.1,428.2 L1723.8,430.1 L1720.5,432 L1717.2,433.7 L1713.9,435.3 L1710.6,436.6 L1707.3,437.9 L1704,439.2 L1700.7,440.6 L1697.4,442.2 L1694.1,443.8 L1690.8,445.4 L1687.5,447.1 L1684.2,448.7 L1680.9,450.3 L1677.6,451.7 L1674.3,453.2 L1671,454.7 L1667.7,456.4 L1664.4,458.4 L1661.1,460.6 L1657.8,462.9 L1654.5,464.9 L1651.2,466.2 L1647.9,467.2 L1644.6,468.2 L1641.3,469.2 L1638,470.2 L1634.7,471.3 L1631.4,472.7 L1628.1,474.3 L1624.8,475.9 L1621.5,477.6 L1618.2,479.2 L1614.9,480.5 L1611.6,481.7 L1608.3,482.9 L1605,484 L1601.7,485.1 L1598.4,485.9 L1595.1,486.3 L1591.8,486.6 L1588.5,486.9 L1585.2,487.2 L1581.9,487.7 L1578.6,488.6 L1575.3,489.7 L1572,490.9 L1568.7,492 L1565.4,493.2 L1562.1,494.5 L1558.8,495.8 L1555.5,497.1 L1552.2,498.5 L1548.9,499.8 L1545.6,501 L1542.3,502.3 L1539,503.5 L1535.7,504.8 L1532.4,505.6 L1529.1,505.4 L1525.8,504.4 L1522.5,503.4 L1519.2,502.9 L1515.9,503 L1512.6,503.4 L1509.3,503.9 L1506,504.5 L1502.7,505.4 L1499.4,506.3 L1496.1,507.3 L1492.8,508.3 L1489.5,509.4 L1486.2,510.5 L1482.9,511.7 L1479.6,512.8 L1476.3,513.9 L1473,514.9 L1469.7,515.5 L1466.4,516 L1463.1,516.5 L1459.8,517 L1456.5,517.7 L1453.2,518.5 L1449.9,519.5 L1446.6,520.5 L1443.3,521.5 L1440,522.8 L1436.7,524.6 L1433.4,525.8 L1430.1,525.3 L1426.8,523.9 L1423.5,522.7 L1420.2,521.6 L1416.9,520.6 L1413.6,519.6 L1410.3,518.6 L1407,517.9 L1403.7,517.8 L1400.4,518.1 L1397.1,518.5 L1393.8,518.8 L1390.5,519.1 L1387.2,519.4 L1383.9,519.8 L1380.6,520.1 L1377.3,520.4 L1374,520.8 L1370.7,521.2 L1367.4,521.6 L1364.1,522 L1360.8,522.4 L1357.5,522.8 L1354.2,523.3 L1350.9,524 L1347.6,524.9 L1344.3,525.8 L1341,526.6 L1337.7,526.9 L1334.4,526.9 L1331.1,526.8 L1327.8,526.8 L1324.5,526.6 L1321.2,526.2 L1317.9,525.6 L1314.6,524.9 L1311.3,524.3 L1308,523.6 L1304.7,523.2 L1301.4,522.8 L1298.1,522.5 L1294.8,522.1 L1291.5,521.9 L1288.2,521.8 L1284.9,521.9 L1281.6,522.1 L1278.3,522.3 L1275,522.4 L1271.7,522.7 L1268.4,523 L1265.1,523.3 L1261.8,523.7 L1258.5,524 L1255.2,524.3 L1251.9,524.6 L1248.6,525 L1245.3,525.6 L1242,526.3 L1238.7,526.9 L1235.4,527.6 L1232.1,528.3 L1228.8,529.2 L1225.5,530.2 L1222.2,531.2 L1218.9,532.2 L1215.6,533 L1212.3,533.7 L1209,534.1 L1205.7,534.1 L1202.4,532.9 L1199.1,530.9 L1195.8,528.7 L1192.5,526.6 L1189.2,524.6 L1185.9,522.7 L1182.6,520.9 L1179.3,519.1 L1176,517.4 L1172.7,516.1 L1169.4,515.6 L1166.1,515.5 L1162.8,515.3 L1159.5,515.1 L1156.2,514.7 L1152.9,514.1 L1149.6,513.2 L1146.3,512.4 L1143,511.6 L1139.7,511.5 L1136.4,512.6 L1133.1,514.1 L1129.8,515.3 L1126.5,516 L1123.2,516.7 L1119.9,517.4 L1116.6,518 L1113.3,518.8 L1110,519.7 L1106.7,520.6 L1103.4,521.6 L1100.1,522.5 L1096.8,523.6 L1093.5,524.7 L1090.2,525.6 L1086.9,526 L1083.6,526.2 L1080.3,526.4 L1077,526.4 L1073.7,525.8 L1070.4,524.9 L1067.1,523.9 L1063.8,523.1 L1060.5,522.2 L1057.2,521.4 L1053.9,520.6 L1050.6,519.7 L1047.3,518.9 L1044,518.1 L1040.7,517.3 L1037.4,516.4 L1034.1,515.6 L1030.8,514.7 L1027.5,513.8 L1024.2,512.9 L1020.9,512.2 L1017.6,512.1 L1014.3,512.4 L1011,512.8 L1007.7,513.2 L1004.4,513.8 L1001.1,514.4 L997.8,515.1 L994.5,515.8 L991.2,516.4 L987.9,516.8 L984.6,517.2 L981.3,517.5 L978,517.9 L974.7,518 L971.4,517.7 L968.1,517 L964.8,516.2 L961.5,515.4 L958.2,514.5 L954.9,513.7 L951.6,512.9 L948.3,512.1 L945,511.4 L941.7,510.9 L938.4,510.8 L935.1,510.8 L931.8,511.1 L928.5,511.8 L925.2,512.8 L921.9,514.1 L918.6,515.7 L915.3,517.4 L912,518.7 L908.7,519.5 L905.4,519.9 L902.1,520.3 L898.8,520.7 L895.5,520.9 L892.2,520.5 L888.9,519.7 L885.6,518.7 L882.3,517.7 L879,516.7 L875.7,515.7 L872.4,514.7 L869.1,513.7 L865.8,512.7 L862.5,511.7 L859.2,510.8 L855.9,509.9 L852.6,509.2 L849.3,508.5 L846,507.9 L842.7,507.2 L839.4,506.7 L836.1,506.3 L832.8,505.8 L829.5,505 L826.2,503.9 L822.9,502.8 L819.6,501.6 L816.3,500.6 L813,499.8 L809.7,499.2 L806.4,498.7 L803.1,498.2 L799.8,497.8 L796.5,497.8 L793.2,498 L789.9,498.3 L786.6,498.7 L783.3,499 L780,499.2 L776.7,499.4 L773.4,499.6 L770.1,499.7 L766.8,500 L763.5,500.5 L760.2,501.2 L756.9,502 L753.6,502.6 L750.3,502.6 L747,501.7 L743.7,500.5 L740.4,499.4 L737.1,498.6 L733.8,497.9 L730.5,497.3 L727.2,496.6 L723.9,496 L720.6,495.6 L717.3,495.2 L714,494.9 L710.7,494.6 L707.4,494.3 L704.1,494.2 L700.8,494.2 L697.5,494.2 L694.2,494.2 L690.9,493.9 L687.6,493.1 L684.3,491.9 L681,490.6 L677.7,489.2 L674.4,488 L671.1,486.9 L667.8,485.8 L664.5,484.8 L661.2,483.9 L657.9,482.8 L654.6,481.8 L651.3,480.6 L648,479.5 L644.7,478.3 L641.4,477.2 L638.1,476.1 L634.8,475.1 L631.5,474.1 L628.2,473.1 L624.9,472.1 L621.6,471.1 L618.3,470.2 L615,469.2 L611.7,468.2 L608.4,467.2 L605.1,466.1 L601.8,465 L598.5,463.8 L595.2,462.7 L591.9,461.5 L588.6,460.4 L585.3,459.4 L582,458.4 L578.7,457.4 L575.4,456.4 L572.1,455.4 L568.8,454.2 L565.5,453.1 L562.2,451.9 L558.9,450.8 L555.6,449.6 L552.3,448.5 L549,447.3 L545.7,446.2 L542.4,445 L539.1,443.5 L535.8,441.7 L532.5,439.8 L529.2,437.9 L525.9,436.1 L522.6,434.3 L519.3,432.4 L516,430.6 L512.7,428.9 L509.4,427.4 L506.1,425.9 L502.8,424.4 L499.5,423 L496.2,421.7 L492.9,420.7 L489.6,419.9 L486.3,419.1 L483,418.2 L479.7,417.4 L476.4,416.6 L473.1,415.8 L469.8,414.9 L466.5,414.1 L463.2,413.2 L459.9,412.1 L456.6,411 L453.3,409.8 L450,408.7 L446.7,407.3 L443.4,405.7 L440.1,403.9 L436.8,402.1 L433.5,400.3 L430.2,398.5 L426.9,396.8 L423.6,395.1 L420.3,393.5 L417,391.8 L413.7,389.9 L410.4,387.3 L407.1,384.5 L403.8,382.3 L400.5,380.7 L397.2,379.5 L393.9,378.5 L390.6,377.6 L387.3,376.8 L384,376 L380.7,375.8 L377.4,376.5 L374.1,376.9 L370.8,376.5 L367.5,376 L364.2,375.6 L360.9,375.4 L357.6,375.1 L354.3,374.8 L351,374.5 L347.7,374.3 L344.4,374 L341.1,373.7 L337.8,373.4 L334.5,372.9 L331.2,372.4 L327.9,371.7 L324.6,370.3 L321.3,368.5 L318,366.6 L314.7,364.5 L311.4,362.3 L308.1,360.2 L304.8,358.1 L301.5,356.2 L298.2,354.3 L294.9,352.5 L291.6,350.8 L288.3,349.2 L285,347.8 L281.7,346.7 L278.4,345.6 L275.1,344.8 L271.8,344.2 L268.5,343.6 L265.2,342.9 L261.9,342.1 L258.6,341.3 L255.3,340.5 L252,339.7 L248.7,338.8 L245.4,337.6 L242.1,336 L238.8,334.4 L235.5,332.5 L232.2,330.4 L228.9,328.2 L225.6,326.2 L222.3,324.5 L219,322.9 L215.7,321.6 L212.4,320.6 L209.1,319.8 L205.8,319.1 L202.5,318.5 L199.2,317.9 L195.9,317.3 L192.6,316.5 L189.3,315.7 L186,314.8 L182.7,314 L179.4,313.2 L176.1,312.4 L172.8,311.5 L169.5,310.7 L166.2,309.9 L162.9,309.1 L159.6,308.2 L156.3,307.3 L153,306.3 L149.7,305.2 L146.4,304.1 L143.1,303 L139.8,301.9 L136.5,300.7 L133.2,299.4 L129.9,298 L126.6,296.6 L123.3,295 L120,293.3 L116.7,291.8 L113.4,290.3 L110.1,288.9 L106.8,287.6 L103.5,286.4 L100.2,285.3 L96.9,284.2 L93.6,283 L90.3,281.9 L87,281.1Z" fill="#c0d4db"/>
<path d="M87.5,181.9H97.3V129.8H107.2V123.5H117.1V144.4H127V156.6H136.9V173.4H146.8V117.2H156.7V179.6H166.6V121.2H176.5V173.4H186.4V179.6H196.3V167.2H206.2V109H216.1V194.3H226V198.3H235.9V181.7H245.8V192.5H255.7V194.3H265.6V206.7H275.4V196.7H285.3V229.5H295.2V211.2H305.1V184.2H315V219.2H324.9V238H334.8V206.7H344.7V211.2H354.6V196.7H364.5V196.7H374.4V215.3H384.3V238H394.2V260.8H404.1V211.2H414V227.5H423.9V244.3H433.8V242.2H443.7V263.3H453.5V217.5H463.4V238H473.3V273.3H483.2V292.2H493.1V308.3H503V258.7H512.9V229.7H522.8V279.5H532.7V285.3H542.6V298.3H552.5V263H562.4V250.3H572.3V225.3H582.2V277.3H592.1V342H602V279.5H611.9V202.5H621.8V271.2H631.6V283.7H641.5V271.2H651.4V302.5H661.3V331.5H671.2V315H681.1V321.3H691V329.5H700.9V308.7H710.8V271.2H720.7V298.3H730.6V258.7H740.5V340H750.4V323.3H760.3V298.3H770.2V310.8H780.1V344.2H790V300.3H799.9V329.5H809.7V300.3H819.6V261.3H829.5V292H839.4V234.2H849.3V258.7H859.2V279.7H869.1V315H879V217.2H888.9V319.2H898.8V273.3H908.7V258.7H918.6V283.8H928.5V323.3H938.4V354.5H948.3V356.3H958.2V308.7H968.1V310.8H978V273.3H987.8V283.8H997.7V306.3H1007.6V267.5H1017.5V308.7H1027.4V302.5H1037.3V308.7H1047.2V354.5H1057.1V333.3H1067V310.8H1076.9V308.7H1086.8V248.3H1096.7V267.5H1106.6V296.3H1116.5V315H1126.4V329.5H1136.3V375.3H1146.2V383.3H1156.1V344.2H1166V258.8H1175.8V260.8H1185.7V288H1195.6V317.2H1205.5V327.5H1215.4V310.8H1225.3V306.7H1235.2V329.5H1245.1V323.3H1255V300.5H1264.9V292.2H1274.8V342.2H1284.7V277.5H1294.6V275.3H1304.5V300.5H1314.4V273.3H1324.3V256.7H1334.2V331.3H1344.1V310.8H1353.9V304.7H1363.8V346.3H1373.7V306.7H1383.6V317.2H1393.5V290H1403.4V313H1413.3V275.5H1423.2V283.8H1433.1V325.3H1443V337.8H1452.9V315H1462.8V294.5H1472.7V283.8H1482.6V323.3H1492.5V306.7H1502.4V298.3H1512.3V317.2H1522.2V260.8H1532V263H1541.9V240H1551.8V296.2H1561.7V356.2H1571.6V306.7H1581.5V296.2H1591.4V296.2H1601.3V290H1611.2V196.7H1621.1V310.8H1631V323.3H1640.9V302.5H1650.8V323.3H1660.7V250.5H1670.6V304.5H1680.5V256.7H1690.4V290H1700.3V254.5H1710.1V300.3H1720V296.3H1729.9V275.3H1739.8V258.8H1749.7V252.5H1759.6V248.3H1769.5V244.2H1779.4V235.8H1789.3V208.7H1799.2V240.2H1809.1V202.5H1819V196.3H1828.9V225.5H1838.8V231.7H1848.7V217.5H1858.6V213.2H1868.5V202.5H1878.4V216.7" fill="none" stroke="#c4c4c4" stroke-width="1.15"/>
<path d="M87.5,356.3H97.3V371.3H107.2V367.2H117.1V389.7H127V408.3H136.9V419.2H146.8V460.3H156.7V442H166.6V389.7H176.5V389.7H186.4V406.3H196.3V431.3H206.2V404.5H216.1V431.3H226V487.5H235.9V442H245.8V477.5H255.7V473.3H265.6V458.7H275.4V450.3H285.3V477.5H295.2V475.5H305.1V491.7H315V543.8H324.9V523.3H334.8V496.2H344.7V516.7H354.6V514.5H364.5V529.2H374.4V546.2H384.3V537.5H394.2V514.5H404.1V487.5H414V512.5H423.9V531.3H433.8V568.8H443.7V568.8H453.5V512.8H463.4V554.5H473.3V568.8H483.2V568.8H493.1V577.2H503V537.5H512.9V539.5H522.8V552.2H532.7V562.2H542.6V568.8H552.5V573H562.4V589.5H572.3V589.7H582.2V606.3H592.1V616.7H602V675H611.9V660.5H621.8V610.5H631.6V595.8H641.5V635.5H651.4V620.8H661.3V589.7H671.2V595.8H681.1V637.5H691V598H700.9V606.3H710.8V658.3H720.7V620.8H730.6V618.8H740.5V600H750.4V606.3H760.3V604.2H770.2V620.8H780.1V648H790V627.2H799.9V656.3H809.7V650H819.6V708.3H829.5V710.5H839.4V641.7H849.3V631.3H859.2V620.8H869.1V737.5H879V716.3H888.9V612.5H898.8V639.5H908.7V610.5H918.6V683.3H928.5V679.2H938.4V693.7H948.3V714.5H958.2V758.3H968.1V795.5H978V706.3H987.8V710.3H997.7V764.5H1007.6V762.2H1017.5V737.5H1027.4V708.3H1037.3V849.7H1047.2V870.3H1057.1V833.3H1067V858H1076.9V839.2H1086.8V752H1096.7V772.5H1106.6V928.8H1116.5V791.3H1126.4V789.5H1136.3V787.2H1146.2V750H1156.1V750H1166V677.5H1175.8V656.3H1185.7V635.5H1195.6V641.7H1205.5V662.5H1215.4V683.3H1225.3V673H1235.2V679.2H1245.1V685.3H1255V670.8H1264.9V679.2H1274.8V666.7H1284.7V677.2H1294.6V664.7H1304.5V666.7H1314.4V700H1324.3V779.2H1334.2V801.7H1344.1V787.2H1353.9V775H1363.8V789.5H1373.7V714.7H1383.6V772.5H1393.5V793.3H1403.4V731.3H1413.3V766.3H1423.2V727.2H1433.1V654.2H1443V643.7H1452.9V716.3H1462.8V666.7H1472.7V689.5H1482.6V729.2H1492.5V714.5H1502.4V693.7H1512.3V695.8H1522.2V658.3H1532V683.3H1541.9V735.3H1551.8V731.2H1561.7V697.8H1571.6V672.8H1581.5V702.2H1591.4V625H1601.3V591.7H1611.2V614.5H1621.1V589.7H1631V591.7H1640.9V614.5H1650.8V581.7H1660.7V581.7H1670.6V558.7H1680.5V579.5H1690.4V608.3H1700.3V585.3H1710.1V575H1720V560.3H1729.9V514.7H1739.8V527.5H1749.7V581.3H1759.6V573.3H1769.5V546.2H1779.4V512.8H1789.3V518.8H1799.2V531.3H1809.1V552.2H1819V537.5H1828.9V556.3H1838.8V529.5H1848.7V518.8H1858.6V495.8H1868.5V491.7H1878.4V510.5" fill="none" stroke="#c4c4c4" stroke-width="1.15"/>
<path d="M87.5,265.5H97.3V269.2H107.2V271.7H117.1V275.8H127V277.5H136.9V282H146.8V287.8H156.7V292.2H166.6V292.2H176.5V298.3H186.4V298.3H196.3V304.7H206.2V306.7H216.1V310H226V314.2H235.9V319.2H245.8V321.2H255.7V321.2H265.6V323.3H275.4V323.3H285.3V327.5H295.2V329.7H305.1V333.8H315V335.8H324.9V341.7H334.8V340H344.7V343.3H354.6V346.7H364.5V352.5H374.4V356.7H384.3V361.2H394.2V366.7H404.1V371.3H414V374.2H423.9V380H433.8V384.2H443.7V387.5H453.5V390.8H463.4V394.2H473.3V398H483.2V401.3H493.1V404.7H503V408.3H512.9V410H522.8V414.2H532.7V418H542.6V422.5H552.5V427.5H562.4V431.7H572.3V435.8H582.2V438.3H592.1V440.8H602V445H611.9V449.2H621.8V453.3H631.6V455.8H641.5V458.3H651.4V462.5H661.3V465H671.2V465H681.1V468.3H691V473.3H700.9V473.3H710.8V477.5H720.7V478.3H730.6V479.2H740.5V478H750.4V478H760.3V478H770.2V479.2H780.1V480H790V481.7H799.9V482.5H809.7V481.7H819.6V480H829.5V479.2H839.4V478.3H849.3V472.5H859.2V471.7H869.1V471.7H879V471.7H888.9V471.7H898.8V475H908.7V475.8H918.6V473.3H928.5V473.3H938.4V476.7H948.3V478.3H958.2V479.2H968.1V477.5H978V476.7H987.8V479.2H997.7V480.8H1007.6V483.3H1017.5V485H1027.4V485H1037.3V485H1047.2V485H1057.1V485.8H1067V486.7H1076.9V488.3H1086.8V490H1096.7V491.7H1106.6V493.3H1116.5V493.3H1126.4V495.3H1136.3V495.8H1146.2V494.7H1156.1V493.3H1166V492.5H1175.8V491.7H1185.7V487.5H1195.6V486.7H1205.5V487.5H1215.4V492.5H1225.3V495.5H1235.2V495.8H1245.1V493.8H1255V495.8H1264.9V499.2H1274.8V496.3H1284.7V495.5H1294.6V495H1304.5V495.8H1314.4V496.7H1324.3V490H1334.2V485.8H1344.1V483.3H1353.9V481.7H1363.8V482.5H1373.7V483.8H1383.6V483.3H1393.5V480H1403.4V478.3H1413.3V478.3H1423.2V473.3H1433.1V473.3H1443V472.5H1452.9V467.5H1462.8V464.2H1472.7V460.5H1482.6V458.8H1492.5V458.8H1502.4V458H1512.3V458H1522.2V457.5H1532V452.2H1541.9V448H1551.8V443.8H1561.7V440.8H1571.6V438.3H1581.5V431.3H1591.4V430H1601.3V427.5H1611.2V422.5H1621.1V417.5H1631V413H1640.9V413H1650.8V411.3H1660.7V408.8H1670.6V409.2H1680.5V408.8H1690.4V404.7H1700.3V400.5H1710.1V398.3H1720V396.7H1729.9V394.7H1739.8V392.5H1749.7V391.3H1759.6V390.8H1769.5V389.7H1779.4V386.7H1789.3V386.3H1799.2V381.7H1809.1V376.3H1819V374.7H1828.9V372.5H1838.8V370.8H1848.7V369.7H1858.6V369.2H1868.5V369.7H1878.4V369.7" fill="none" stroke="#7f9096" stroke-width="1.2"/>
<path d="M87.5,248.7H97.3V258.8H107.2V271.7H117.1V287.8H127V283.3H136.9V271.7H146.8V277.8H156.7V304.7H166.6V292.2H176.5V283.8H186.4V298.3H196.3V292.2H206.2V310.8H216.1V304.7H226V290.5H235.9V323.3H245.8V327.5H255.7V331.7H265.6V333.8H275.4V321.2H285.3V338H295.2V331.7H305.1V335.8H315V348.3H324.9V340H334.8V348.3H344.7V346.7H354.6V346.7H364.5V362.5H374.4V376.7H384.3V365H394.2V361.2H404.1V376.7H414V359.2H423.9V380.8H433.8V395.5H443.7V406.2H453.5V406.2H463.4V394.2H473.3V404.2H483.2V406.2H493.1V408.3H503V412.5H512.9V408.3H522.8V433H532.7V441.3H542.6V433.3H552.5V439.7H562.4V433.3H572.3V435.5H582.2V419.2H592.1V425H602V439.7H611.9V456.7H621.8V464.2H631.6V468.3H641.5V458.7H651.4V468.3H661.3V470.8H671.2V479.2H681.1V463H691V479.2H700.9V475H710.8V448.3H720.7V450H730.6V487.5H740.5V483.3H750.4V481.7H760.3V495.8H770.2V502.2H780.1V485.8H790V510.3H799.9V504.2H809.7V485.8H819.6V495.8H829.5V514.7H839.4V506.7H849.3V504.2H859.2V491.7H869.1V485.8H879V481.7H888.9V481.7H898.8V495.8H908.7V498H918.6V490H928.5V491.7H938.4V525H948.3V498H958.2V490H968.1V506.3H978V523H987.8V529.2H997.7V510.3H1007.6V516.7H1017.5V498H1027.4V520.8H1037.3V490H1047.2V481.3H1057.1V487.5H1067V487.5H1076.9V500H1086.8V493.8H1096.7V477.2H1106.6V520.8H1116.5V510.3H1126.4V506.3H1136.3V516.7H1146.2V508.3H1156.1V506.3H1166V490H1175.8V506.3H1185.7V494.2H1195.6V498H1205.5V485.8H1215.4V508.3H1225.3V512.5H1235.2V529.2H1245.1V537.5H1255V508.3H1264.9V523H1274.8V510.3H1284.7V531.3H1294.6V523H1304.5V502H1314.4V529.2H1324.3V483.3H1334.2V479.2H1344.1V464.7H1353.9V470.8H1363.8V468.7H1373.7V468.7H1383.6V483.3H1393.5V470.8H1403.4V487.5H1413.3V479.2H1423.2V489.7H1433.1V489.7H1443V491.7H1452.9V514.7H1462.8V493.8H1472.7V488H1482.6V490H1492.5V490H1502.4V508.3H1512.3V479.7H1522.2V473.3H1532V471.3H1541.9V456.7H1551.8V438H1561.7V425.5H1571.6V423.3H1581.5V423.3H1591.4V433.8H1601.3V438H1611.2V458.8H1621.1V464.7H1631V463H1640.9V460.5H1650.8V431.7H1660.7V419.2H1670.6V417.2H1680.5V408.8H1690.4V396.3H1700.3V388H1710.1V404.7H1720V377.5H1729.9V369.2H1739.8V381.7H1749.7V377.5H1759.6V408.8H1769.5V398.3H1779.4V373.3H1789.3V398.3H1799.2V396.3H1809.1V381.7H1819V381.7H1828.9V388H1838.8V406.7H1848.7V398.3H1858.6V385.8H1868.5V394.2H1878.4V356.7" fill="none" stroke="#000" stroke-width="2.1"/>
<path d="M87.5,317.2H97.3V371.3H107.2V352.5H117.1V280H127V331.7H136.9V306.7H146.8V280H156.7V283.8H166.6V277.8H176.5V285.8H186.4V296.7H196.3V319.2H206.2V317.2H216.1V290.5H226V331.7H235.9V352.5H245.8V350.5H255.7V358.8H265.6V321.2H275.4V292.2H285.3V257.2H295.2V238.3H305.1V263.3H315V365H324.9V344.2H334.8V371.3H344.7V356.7H354.6V315H364.5V329.7H374.4V302.5H384.3V316.7H394.2V296.2H404.1V325H414V362.5H423.9V364.7H433.8V361.2H443.7V416.7H453.5V431.3H463.4V425H473.3V375.3H483.2V385.5H493.1V340H503V354.5H512.9V302.5H522.8V281.7H532.7V285.8H542.6V348H552.5V414.7H562.4V518.8H572.3V514.7H582.2V485.5H592.1V524.7H602V612.5H611.9V566.3H621.8V458.7H631.6V463H641.5V477.2H651.4V506.3H661.3V490H671.2V421.2H681.1V438H691V463H700.9V471.3H710.8V479.2H720.7V464.7H730.6V452.5H740.5V401.7H750.4V354.5H760.3V298.3H770.2V365H780.1V388H790V362.8H799.9V404.2H809.7V440H819.6V458.7" fill="none" stroke="#ff0000" stroke-width="2.1"/>
<circle cx="819.6" cy="458.7" r="9.5" fill="#ff0000"/>
<circle cx="206.2" cy="109" r="4.2" fill="#999"/>
<text x="220.6" y="139.3" font-size="27" fill="#999" stroke="#999" stroke-width="0.27" textLength="120.5" lengthAdjust="spacingAndGlyphs">2023-10-13</text>
<text x="244.1" y="163.9" font-size="27" fill="#999" stroke="#999" stroke-width="0.27" textLength="73.4" lengthAdjust="spacingAndGlyphs">20.9°C</text>
<circle cx="611.9" cy="202.5" r="4.2" fill="#999"/>
<text x="601" y="164.5" font-size="27" fill="#999" stroke="#999" stroke-width="0.27" textLength="120.5" lengthAdjust="spacingAndGlyphs">1984-11-23</text>
<text x="624.5" y="189.1" font-size="27" fill="#999" stroke="#999" stroke-width="0.27" textLength="73.4" lengthAdjust="spacingAndGlyphs">16.4°C</text>
<circle cx="879" cy="217.2" r="4.2" fill="#999"/>
<text x="868.5" y="180" font-size="27" fill="#999" stroke="#999" stroke-width="0.27" textLength="120.5" lengthAdjust="spacingAndGlyphs">1993-12-20</text>
<text x="892" y="204.6" font-size="27" fill="#999" stroke="#999" stroke-width="0.27" textLength="73.4" lengthAdjust="spacingAndGlyphs">15.7°C</text>
<circle cx="1086.8" cy="248.3" r="4.2" fill="#999"/>
<text x="1076.3" y="211" font-size="27" fill="#999" stroke="#999" stroke-width="0.27" textLength="120.5" lengthAdjust="spacingAndGlyphs">2015-01-10</text>
<text x="1099.8" y="235.6" font-size="27" fill="#999" stroke="#999" stroke-width="0.27" textLength="73.4" lengthAdjust="spacingAndGlyphs">14.2°C</text>
<circle cx="1541.9" cy="240" r="4.2" fill="#999"/>
<text x="1531.3" y="202.5" font-size="27" fill="#999" stroke="#999" stroke-width="0.27" textLength="120.5" lengthAdjust="spacingAndGlyphs">1997-02-25</text>
<text x="1554.8" y="227.1" font-size="27" fill="#999" stroke="#999" stroke-width="0.27" textLength="73.4" lengthAdjust="spacingAndGlyphs">14.6°C</text>
<circle cx="1819" cy="196.3" r="4.2" fill="#999"/>
<text x="1781.8" y="159" font-size="27" fill="#999" stroke="#999" stroke-width="0.27" textLength="120.5" lengthAdjust="spacingAndGlyphs">1994-03-25</text>
<text x="1805.3" y="183.6" font-size="27" fill="#999" stroke="#999" stroke-width="0.27" textLength="73.4" lengthAdjust="spacingAndGlyphs">16.7°C</text>
<circle cx="374.4" cy="546.2" r="4.2" fill="#999"/>
<text x="364.3" y="578.3" font-size="27" fill="#999" stroke="#999" stroke-width="0.27" textLength="120.5" lengthAdjust="spacingAndGlyphs">1997-10-30</text>
<text x="391.5" y="602.9" font-size="27" fill="#999" stroke="#999" stroke-width="0.27" textLength="66" lengthAdjust="spacingAndGlyphs">-0.1°C</text>
<circle cx="602" cy="675" r="4.2" fill="#999"/>
<text x="591.3" y="707.6" font-size="27" fill="#999" stroke="#999" stroke-width="0.27" textLength="120.5" lengthAdjust="spacingAndGlyphs">1988-11-22</text>
<text x="618.5" y="732.2" font-size="27" fill="#999" stroke="#999" stroke-width="0.27" textLength="66" lengthAdjust="spacingAndGlyphs">-6.3°C</text>
<circle cx="968.1" cy="795.5" r="4.2" fill="#999"/>
<text x="957.5" y="827.8" font-size="27" fill="#999" stroke="#999" stroke-width="0.27" textLength="120.5" lengthAdjust="spacingAndGlyphs">1996-12-29</text>
<text x="977.7" y="852.4" font-size="27" fill="#999" stroke="#999" stroke-width="0.27" textLength="80" lengthAdjust="spacingAndGlyphs">-12.1°C</text>
<circle cx="1106.6" cy="928.8" r="4.2" fill="#999"/>
<text x="1121.1" y="892.7" font-size="27" fill="#999" stroke="#999" stroke-width="0.27" textLength="120.5" lengthAdjust="spacingAndGlyphs">1987-01-12</text>
<text x="1141.3" y="917.3" font-size="27" fill="#999" stroke="#999" stroke-width="0.27" textLength="80" lengthAdjust="spacingAndGlyphs">-18.5°C</text>
<circle cx="1334.2" cy="801.7" r="4.2" fill="#999"/>
<text x="1324.3" y="835" font-size="27" fill="#999" stroke="#999" stroke-width="0.27" textLength="120.5" lengthAdjust="spacingAndGlyphs">2012-02-04</text>
<text x="1344.5" y="859.6" font-size="27" fill="#999" stroke="#999" stroke-width="0.27" textLength="80" lengthAdjust="spacingAndGlyphs">-12.4°C</text>
<circle cx="1581.5" cy="702.2" r="4.2" fill="#999"/>
<text x="1570.8" y="734.6" font-size="27" fill="#999" stroke="#999" stroke-width="0.27" textLength="120.5" lengthAdjust="spacingAndGlyphs">2005-03-01</text>
<text x="1598" y="759.2" font-size="27" fill="#999" stroke="#999" stroke-width="0.27" textLength="66" lengthAdjust="spacingAndGlyphs">-7.6°C</text>
<text x="809.7" y="490" font-size="27" fill="#ff0000" stroke="#ff0000" stroke-width="0.27" textLength="120.5" lengthAdjust="spacingAndGlyphs">2025-12-14</text>
<text x="840" y="515" font-size="27" fill="#ff0000" stroke="#ff0000" stroke-width="0.27" textLength="58.7" lengthAdjust="spacingAndGlyphs">4.1°C</text>
<text x="16.3" y="137.4" font-size="28" fill="#000" stroke="#000" stroke-width="0.28" textLength="25" lengthAdjust="spacingAndGlyphs">20</text>
<text x="16.3" y="241.5" font-size="28" fill="#000" stroke="#000" stroke-width="0.28" textLength="25" lengthAdjust="spacingAndGlyphs">15</text>
<text x="16.3" y="345.7" font-size="28" fill="#000" stroke="#000" stroke-width="0.28" textLength="25" lengthAdjust="spacingAndGlyphs">10</text>
<text x="23" y="449.8" font-size="28" fill="#000" stroke="#000" stroke-width="0.28" textLength="11.7" lengthAdjust="spacingAndGlyphs">5</text>
<text x="23" y="554" font-size="28" fill="#000" stroke="#000" stroke-width="0.28" textLength="11.7" lengthAdjust="spacingAndGlyphs">0</text>
<text x="19.2" y="658.1" font-size="28" fill="#000" stroke="#000" stroke-width="0.28" textLength="19.3" lengthAdjust="spacingAndGlyphs">-5</text>
<text x="12.5" y="762.3" font-size="28" fill="#000" stroke="#000" stroke-width="0.28" textLength="32.6" lengthAdjust="spacingAndGlyphs">-10</text>
<text x="12.5" y="866.4" font-size="28" fill="#000" stroke="#000" stroke-width="0.28" textLength="32.6" lengthAdjust="spacingAndGlyphs">-15</text>
<text x="69.7" y="974" font-size="28.5" fill="#000" stroke="#000" stroke-width="0.29" textLength="36.5" lengthAdjust="spacingAndGlyphs">Oct</text>
<text x="374.2" y="974" font-size="28.5" fill="#000" stroke="#000" stroke-width="0.29" textLength="41" lengthAdjust="spacingAndGlyphs">Nov</text>
<text x="671" y="974" font-size="28.5" fill="#000" stroke="#000" stroke-width="0.29" textLength="41" lengthAdjust="spacingAndGlyphs">Dec</text>
<text x="979.7" y="974" font-size="28.5" fill="#000" stroke="#000" stroke-width="0.29" textLength="37" lengthAdjust="spacingAndGlyphs">Jan</text>
<text x="1286" y="974" font-size="28.5" fill="#000" stroke="#000" stroke-width="0.29" textLength="38" lengthAdjust="spacingAndGlyphs">Feb</text>
<text x="1561.8" y="974" font-size="28.5" fill="#000" stroke="#000" stroke-width="0.29" textLength="40.5" lengthAdjust="spacingAndGlyphs">Mar</text>
<text x="1870.5" y="974" font-size="28.5" fill="#000" stroke="#000" stroke-width="0.29" textLength="36.5" lengthAdjust="spacingAndGlyphs">Apr</text>
<text y="40.5" font-size="43" fill="#000" stroke="#000" stroke-width="0.9"><tspan x="52.8" textLength="443.5" lengthAdjust="spacingAndGlyphs">Evolution of Temperature</tspan><tspan x="509.3" textLength="62.4" lengthAdjust="spacingAndGlyphs">[°C]</tspan><tspan x="583.7" textLength="398.5" lengthAdjust="spacingAndGlyphs">Average 1 day at Basel</tspan> <tspan x="1006.8" textLength="183" lengthAdjust="spacingAndGlyphs">BL (316m)</tspan></text>
<text y="82.1" font-size="34.4" fill="#000" stroke="#000" stroke-width="0.75"><tspan x="52.8" textLength="170" lengthAdjust="spacingAndGlyphs">Climatology</tspan><tspan x="236.7" textLength="157.3" lengthAdjust="spacingAndGlyphs">1981-10-01</tspan><tspan x="410" textLength="16" lengthAdjust="spacingAndGlyphs">–</tspan><tspan x="438.3" textLength="163.4" lengthAdjust="spacingAndGlyphs">2025-12-14</tspan></text>
<text transform="translate(1697.2,53.7) scale(1.188,1)" font-size="61" style="font-family:'Liberation Serif',serif">Z</text>
<text transform="translate(1737.3,53.7) scale(1.06,1.025)" font-size="61.7" fill="#ff0000" style="font-family:'Liberation Serif',serif">Δ</text>
<text x="1781" y="30" font-size="18.6" fill="#222" textLength="110" lengthAdjust="spacingAndGlyphs">Zimmerberg</text>
<text x="1781.7" y="53" font-size="18.6" fill="#222" textLength="107.3" lengthAdjust="spacingAndGlyphs">Risk Analytics</text>
<path d="M525,1028H551" stroke="#ff0000" stroke-width="2.4"/><circle cx="538" cy="1028" r="5" fill="#ff0000"/>
<path d="M640.6,1028H665.6" stroke="#b4b4b4" stroke-width="1.3"/><circle cx="653.2" cy="1028" r="4.8" fill="#999"/>
<path d="M795.3,1028H821.4" stroke="#8c9da4" stroke-width="1.5"/>
<path d="M936.5,1028H962.5" stroke="#000" stroke-width="2.4"/>
<rect x="1208.5" y="1013.7" width="28.7" height="29" fill="#c0d4db"/>
<rect x="1348" y="1013.7" width="28.7" height="29" fill="#dff2fa"/>
<text x="567.7" y="1038.3" font-size="29" fill="#000" stroke="#000" stroke-width="0.29" textLength="54.7" lengthAdjust="spacingAndGlyphs">2026</text>
<text x="684.9" y="1038.3" font-size="29" fill="#000" stroke="#000" stroke-width="0.29" textLength="92.7" lengthAdjust="spacingAndGlyphs">Min-Max</text>
<text x="839.6" y="1038.3" font-size="29" fill="#000" stroke="#000" stroke-width="0.29" textLength="78.6" lengthAdjust="spacingAndGlyphs">Median</text>
<text x="980.2" y="1038.3" font-size="29" fill="#000" stroke="#000" stroke-width="0.29" textLength="181.3" lengthAdjust="spacingAndGlyphs">Norm 1981-2010</text>
<text x="1252.6" y="1038.3" font-size="29" fill="#000" stroke="#000" stroke-width="0.29" textLength="79.2" lengthAdjust="spacingAndGlyphs">25-75%</text>
<text x="1394.3" y="1038.3" font-size="29" fill="#000" stroke="#000" stroke-width="0.29" textLength="63" lengthAdjust="spacingAndGlyphs">5-95%</text>
<text x="52.5" y="1072.3" font-size="28.5" fill="#999" stroke="#999" stroke-width="0.29" textLength="829.5" lengthAdjust="spacingAndGlyphs">©  2025 Zimmerberg Risk Analytics GmbH | Data: MeteoSwiss | Missing days: 0 ()</text>
</svg></body></html>
